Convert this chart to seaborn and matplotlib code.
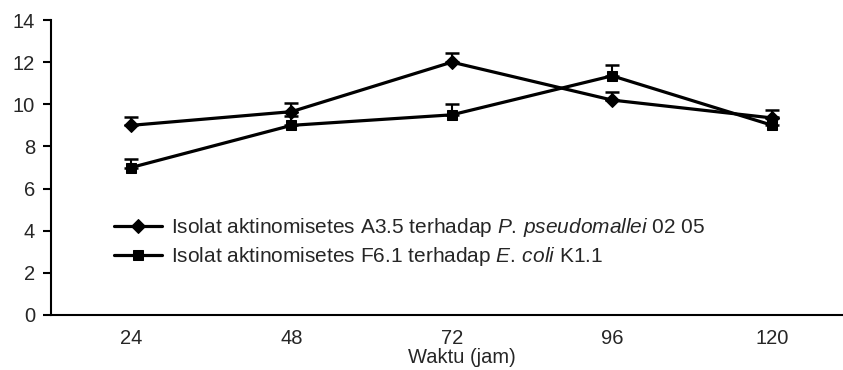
import matplotlib
matplotlib.use("Agg")
import matplotlib.pyplot as plt
import seaborn as sns
import numpy as np
import pandas as pd

categories = ["24", "48", "72", "96", "120"]
series1 = [9.0, 9.65, 12.0, 10.2, 9.35]
series1_err = [0.4, 0.43, 0.43, 0.4, 0.4]
series2 = [7.0, 9.0, 9.5, 11.35, 9.0]
series2_err = [0.4, 0.44, 0.5, 0.5, 0.4]
label1 = r"Isolat aktinomisetes A3.5 terhadap $\mathit{P.\,pseudomallei}$ 02 05"
label2 = r"Isolat aktinomisetes F6.1 terhadap $\mathit{E.\,coli}$ K1.1"
yticks = [0, 2, 4, 6, 8, 10, 12, 14]

sns.set_style("white")
plt.rcParams["font.family"] = ["Liberation Sans", "DejaVu Sans"]
plt.rcParams["mathtext.fontset"] = "custom"
plt.rcParams["mathtext.it"] = "Liberation Sans:italic"
plt.rcParams["mathtext.rm"] = "Liberation Sans"

FS = 14.5
LFS = 15

fig = plt.figure(figsize=(8.43, 3.70), dpi=100)
ax = fig.add_axes([51 / 843, 55 / 370, (843 - 51) / 843, (315 - 20) / 370])

x = np.arange(len(categories))
df = pd.DataFrame({
    "x": np.concatenate([x, x]),
    "y": series1 + series2,
    "s": [label1] * 5 + [label2] * 5,
})

for vals, err in [(series1, series1_err), (series2, series2_err)]:
    ax.errorbar(x, vals, yerr=[np.zeros(5), err], fmt="none", ecolor="black",
                elinewidth=1.5, capsize=5, capthick=1.8, zorder=2)

sns.lineplot(data=df, x="x", y="y", hue="s", style="s",
             markers={label1: "D", label2: "s"}, dashes=False,
             palette={label1: "black", label2: "black"},
             linewidth=2.3, markersize=7.5, markeredgecolor="black",
             ax=ax, zorder=3, legend=True)

ax.set_xlim(-0.5, 4.44)
ax.set_ylim(0, 14)
ax.set_yticks(yticks)
ax.set_yticklabels([str(t) for t in yticks], fontsize=FS)
ax.set_xticks([-0.5, 0.5, 1.5, 2.5, 3.5])
ax.set_xticklabels([])
ax.set_xticks(x, minor=True)
ax.set_xticklabels(categories, minor=True, fontsize=FS)
ax.tick_params(axis="x", which="major", direction="out", length=5.5, width=1.5, color="black")
ax.tick_params(axis="x", which="minor", length=0, pad=10)
ax.tick_params(axis="y", direction="out", length=5.5, width=1.5, color="black", pad=6, left=True)
ax.set_xlabel("Waktu (jam)", fontsize=FS)
ax.xaxis.set_label_coords((462 - 51) / 792, -0.112)
ax.set_ylabel("")
for sp in ["top", "right"]:
    ax.spines[sp].set_visible(False)
for sp in ["left", "bottom"]:
    ax.spines[sp].set_color("black")
    ax.spines[sp].set_linewidth(1.5)

leg = ax.legend(loc="upper left", bbox_to_anchor=(0.0795, 0.335), frameon=False,
                fontsize=LFS, handlelength=2.3, handletextpad=0.45,
                labelspacing=0.3, borderaxespad=0, borderpad=0)
for h in leg.legend_handles:
    h.set_linewidth(2.3)

fig.savefig("out.png", dpi=100)
